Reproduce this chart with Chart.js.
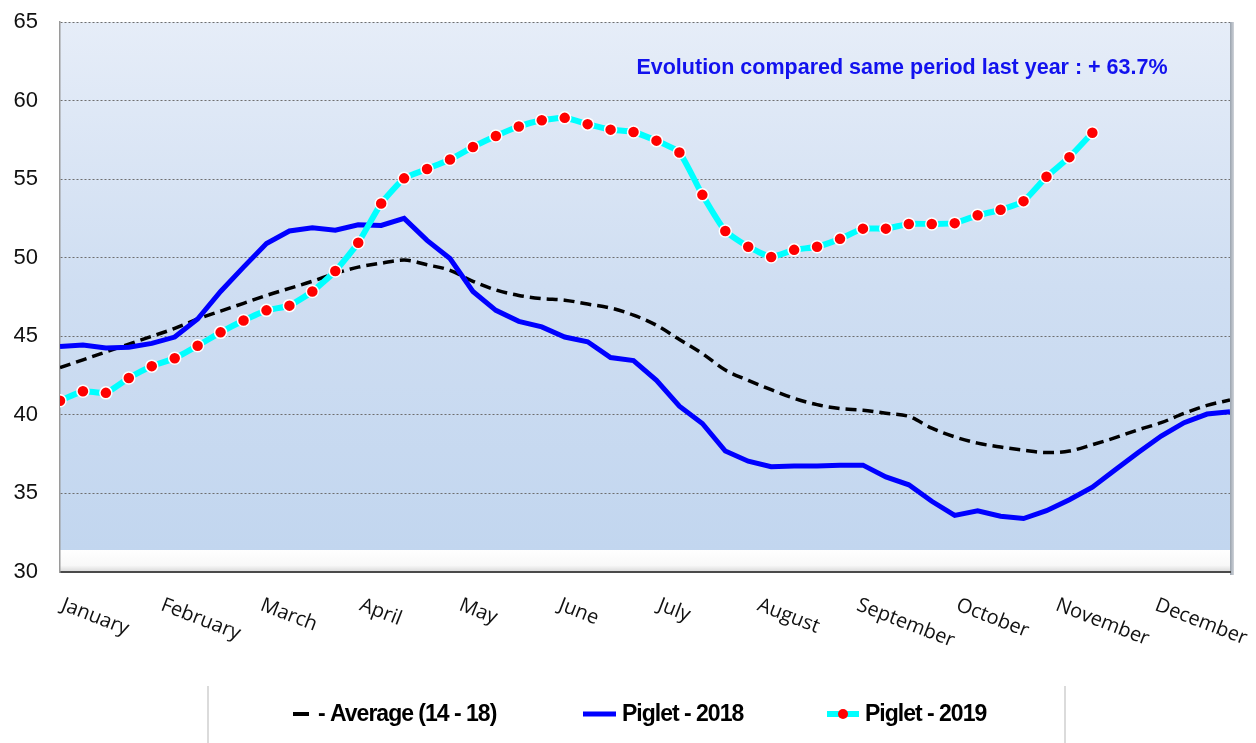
<!DOCTYPE html>
<html>
<head>
<meta charset="utf-8">
<script src="https://cdn.jsdelivr.net/npm/chart.js@4.4.0/dist/chart.umd.min.js"></script>
<style>
  body { margin: 0; background: #fff; }
  canvas { display: block; }
</style>
</head>
<body>
<canvas id="pigletChart" width="1256" height="743"></canvas>
<script>
// week numbers 1..52
const weeks = Array.from({ length: 52 }, (_, i) => i + 1);
const months = ["January", "February", "March", "April", "May", "June", "July",
  "August", "September", "October", "November", "December"];
const yTicks = [30, 35, 40, 45, 50, 55, 60, 65];

const average = [43.0, 43.5, 44.0, 44.5, 45.0, 45.5, 46.1, 46.6, 47.1, 47.6,
  48.05, 48.5, 49.0, 49.4, 49.65, 49.85, 49.55, 49.2, 48.5, 47.95,
  47.6, 47.4, 47.3, 47.05, 46.8, 46.35, 45.7, 44.8, 43.9, 42.85,
  42.2, 41.6, 41.05, 40.65, 40.4, 40.3, 40.1, 39.9, 39.15, 38.6,
  38.2, 37.95, 37.75, 37.6, 37.7, 38.1, 38.55, 39.05, 39.5, 40.1,
  40.6, 40.95];

const piglet2018 = [44.35, 44.45, 44.25, 44.3, 44.55, 44.95, 46.1, 47.85, 49.4, 50.9,
  51.7, 51.9, 51.75, 52.1, 52.05, 52.5, 51.1, 49.95, 47.85, 46.65,
  45.95, 45.6, 44.95, 44.65, 43.65, 43.45, 42.2, 40.55, 39.45, 37.7,
  37.05, 36.7, 36.75, 36.75, 36.8, 36.8, 36.05, 35.55, 34.5, 33.6,
  33.9, 33.55, 33.4, 33.9, 34.6, 35.4, 36.5, 37.6, 38.65, 39.5,
  40.05, 40.2];

const piglet2019 = [40.9, 41.5, 41.4, 42.35, 43.1, 43.6, 44.4, 45.25, 46.0, 46.65,
  46.95, 47.85, 49.15, 50.95, 53.45, 55.05, 55.65, 56.25, 57.05, 57.75,
  58.35, 58.75, 58.9, 58.5, 58.15, 58.0, 57.45, 56.7, 54.0, 51.7,
  50.7, 50.05, 50.5, 50.7, 51.2, 51.85, 51.85, 52.15, 52.15, 52.2,
  52.7, 53.05, 53.6, 55.15, 56.4, 57.95];

const evolutionText = "Evolution compared same period last year : + 63.7%";

function toPoints(values) {
  return values.map((v, i) => ({ x: weeks[i] - 1, y: v }));
}

const backgroundPlugin = {
  id: "plotBackground",
  beforeDraw(chart) {
    const { ctx, chartArea: a } = chart;
    const floorY = a.bottom - 22;
    ctx.save();
    const grad = ctx.createLinearGradient(0, a.top, 0, floorY);
    grad.addColorStop(0, "#E6EDF8");
    grad.addColorStop(0.5, "#CFDEF2");
    grad.addColorStop(1, "#C2D6EF");
    ctx.fillStyle = grad;
    ctx.fillRect(a.left, a.top, a.right - a.left, floorY - a.top);
    const floor = ctx.createLinearGradient(0, floorY, 0, a.bottom);
    floor.addColorStop(0, "#FFFFFF");
    floor.addColorStop(0.7, "#F8F8F8");
    floor.addColorStop(1, "#D8D8D8");
    ctx.fillStyle = floor;
    ctx.fillRect(a.left, floorY, a.right - a.left, a.bottom - floorY);
    // right wall shadow
    const wall = ctx.createLinearGradient(a.right, 0, a.right + 4, 0);
    wall.addColorStop(0, "#9AA3AE");
    wall.addColorStop(1, "#D0D4DA");
    ctx.fillStyle = wall;
    ctx.fillRect(a.right, a.top, 4, a.bottom - a.top + 3);
    ctx.restore();
  },
};

const extrasPlugin = {
  id: "extras",
  afterDraw(chart) {
    const { ctx, chartArea: a } = chart;
    const xScale = chart.scales.x;
    ctx.save();

    // month labels, slanted downwards
    ctx.fillStyle = "#111";
    ctx.font = "20px 'Open Sans', sans-serif";
    ctx.textAlign = "left";
    ctx.textBaseline = "top";
    months.forEach((m, i) => {
      const px = xScale.getPixelForValue((i * 52) / 12);
      ctx.save();
      ctx.translate(px + 6, a.bottom + 23);
      ctx.rotate(0.37);
      ctx.fillText(m, 0, 0);
      ctx.restore();
    });

    // annotation
    ctx.fillStyle = "#1212EE";
    ctx.font = "bold 21.5px 'Liberation Sans', Arial, sans-serif";
    ctx.textAlign = "center";
    ctx.textBaseline = "middle";
    ctx.fillText(evolutionText, 902, 68);

    // legend frame
    ctx.strokeStyle = "#D0D0D0";
    ctx.lineWidth = 1.5;
    ctx.beginPath();
    ctx.moveTo(208, 686);
    ctx.lineTo(208, 743);
    ctx.moveTo(1065, 686);
    ctx.lineTo(1065, 743);
    ctx.stroke();

    const ly = 714;
    ctx.font = "bold 23px 'Liberation Sans', Arial, sans-serif";
    ctx.letterSpacing = "-1px";
    ctx.textAlign = "left";
    ctx.fillStyle = "#000";

    // average sample
    ctx.strokeStyle = "#000";
    ctx.lineWidth = 4;
    ctx.beginPath();
    ctx.moveTo(293, ly);
    ctx.lineTo(309, ly);
    ctx.stroke();
    ctx.fillText("- Average (14 - 18)", 318, ly + 1);

    // 2018 sample
    ctx.strokeStyle = "#0000FF";
    ctx.lineWidth = 5;
    ctx.beginPath();
    ctx.moveTo(583, ly);
    ctx.lineTo(616, ly);
    ctx.stroke();
    ctx.fillText("Piglet - 2018", 622, ly + 1);

    // 2019 sample
    ctx.strokeStyle = "#00FFFF";
    ctx.lineWidth = 6;
    ctx.beginPath();
    ctx.moveTo(827, ly);
    ctx.lineTo(859, ly);
    ctx.stroke();
    ctx.fillStyle = "#FF0000";
    ctx.beginPath();
    ctx.arc(843, ly, 5, 0, Math.PI * 2);
    ctx.fill();
    ctx.fillStyle = "#000";
    ctx.fillText("Piglet - 2019", 865, ly + 1);

    ctx.restore();
  },
};

const ctx = document.getElementById("pigletChart").getContext("2d");

const pigletChart = new Chart(ctx, {
  type: "line",
  data: {
    datasets: [
      {
        label: "Piglet - 2019",
        data: toPoints(piglet2019),
        borderColor: "#00FFFF",
        borderWidth: 6,
        tension: 0.15,
        pointRadius: 6,
        pointBackgroundColor: "#FF0000",
        pointBorderColor: "#FFFFFF",
        pointBorderWidth: 1.5,
        order: 0,
      },
      {
        label: "Piglet - 2018",
        data: toPoints(piglet2018),
        borderColor: "#0000FF",
        borderWidth: 5,
        tension: 0,
        pointRadius: 0,
        order: 1,
      },
      {
        label: "- Average (14 - 18)",
        data: toPoints(average),
        borderColor: "#000000",
        borderWidth: 3.5,
        borderDash: [11, 6],
        cubicInterpolationMode: "monotone",
        pointRadius: 0,
        order: 2,
      },
    ],
  },
  options: {
    responsive: false,
    animation: false,
    layout: {
      padding: { top: 22, right: 26, bottom: 171, left: 0 },
    },
    scales: {
      x: {
        type: "linear",
        min: 0,
        max: weeks.length - 1,
        ticks: { display: false },
        grid: { display: false },
        border: { color: "#4A4A4A", width: 2 },
        afterFit: function (scale) {
          scale.height = 0;
          scale.paddingLeft = 0;
          scale.paddingRight = 0;
        },
      },
      y: {
        min: yTicks[0],
        max: yTicks[yTicks.length - 1],
        afterBuildTicks: function (scale) {
          scale.ticks = yTicks.map((v) => ({ value: v }));
        },
        ticks: {
          color: "#111111",
          padding: 22,
          font: { family: "'Liberation Sans', Arial, sans-serif", size: 22 },
        },
        grid: { color: "#6E6E6E", lineWidth: 1, drawTicks: false },
        border: { color: "#9A9A9A", width: 1.5, dash: [2, 2] },
        afterFit: function (scale) {
          scale.width = 60;
          scale.paddingTop = 0;
          scale.paddingBottom = 0;
        },
      },
    },
    plugins: {
      legend: { display: false },
      tooltip: { enabled: false },
    },
  },
  plugins: [backgroundPlugin, extrasPlugin],
});
</script>
</body>
</html>
